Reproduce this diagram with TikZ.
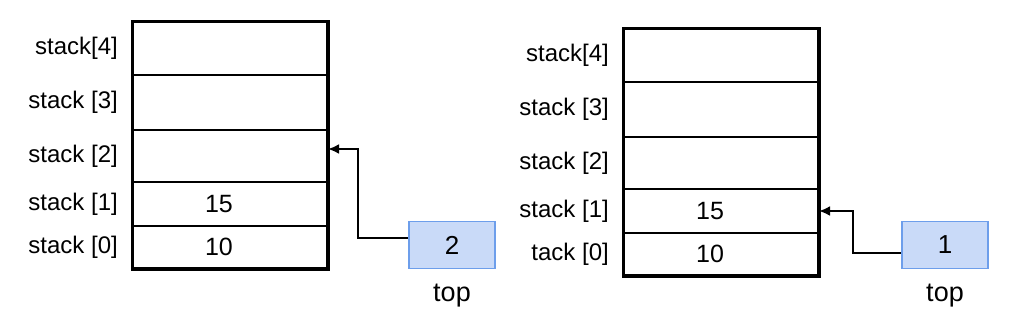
\documentclass[tikz,border=0pt]{standalone}
\usepackage{fontspec}
\setmainfont{Liberation Sans}
\usetikzlibrary{arrows.meta,positioning}
\definecolor{topfill}{HTML}{C9DAF8}
\definecolor{topline}{HTML}{6D9EEB}
\tikzset{
  cell/.style={draw, line width=2pt, minimum width=194pt, inner sep=0pt},
  val/.style={inner sep=0pt, font=\fontsize{25}{27}\selectfont},
  lbl/.style={anchor=east, inner sep=0pt, font=\fontsize{24}{26}\selectfont},
  topbox/.style={draw=topline, fill=topfill, line width=1.6pt, minimum width=86pt,
                 minimum height=47pt, inner sep=0pt, font=\fontsize{26}{28}\selectfont},
  toplbl/.style={inner sep=0pt, font=\fontsize{27}{29}\selectfont},
  ptr/.style={-{Latex[length=11pt,width=10pt]}, line width=2.4pt}
}
\begin{document}
\begin{tikzpicture}[x=1pt,y=-1pt]
  \useasboundingbox (0,0) rectangle (1027,327);

  \def\stk#1#2#3#4{%
    \foreach \i/\ya/\yb/\v/\t in {4/0/53//{stack[4]}, 3/53/108//{stack [3]},
      2/108/160//{stack [2]}, 1/160/204/15/{stack [1]}, 0/204/246/10/{#4}}{
      \pgfmathsetmacro\hh{\yb-\ya}
      \node[cell, minimum height=\hh pt] (#3\i) at (#1+97,#2+\ya+\hh/2) {};
      \node[val, xshift=-11pt] (#3v\i) at (#3\i) {\v};
      \node[lbl, left=14pt of #3\i] (#3l\i) {\t};
    }
    \draw[line width=3pt] (#34.north west) rectangle (#30.south east);
  }

  \stk{133}{22}{l}{stack [0]}
  \stk{624}{29}{r}{tack [0]}

  \node[topbox] (ltop) at (452,245) {2};
  \node[toplbl, below=15pt of ltop] (ltopname) {top};
  \draw[ptr] ([yshift=7pt]ltop.west) -- ++(-50,0) |- ([yshift=7pt]l2.east);

  \node[topbox] (rtop) at (945,245) {1};
  \node[toplbl, below=15pt of rtop] (rtopname) {top};
  \draw[ptr] ([yshift=-8pt]rtop.west) -- ++(-48,0) |- (r1.east);

\end{tikzpicture}
\end{document}
